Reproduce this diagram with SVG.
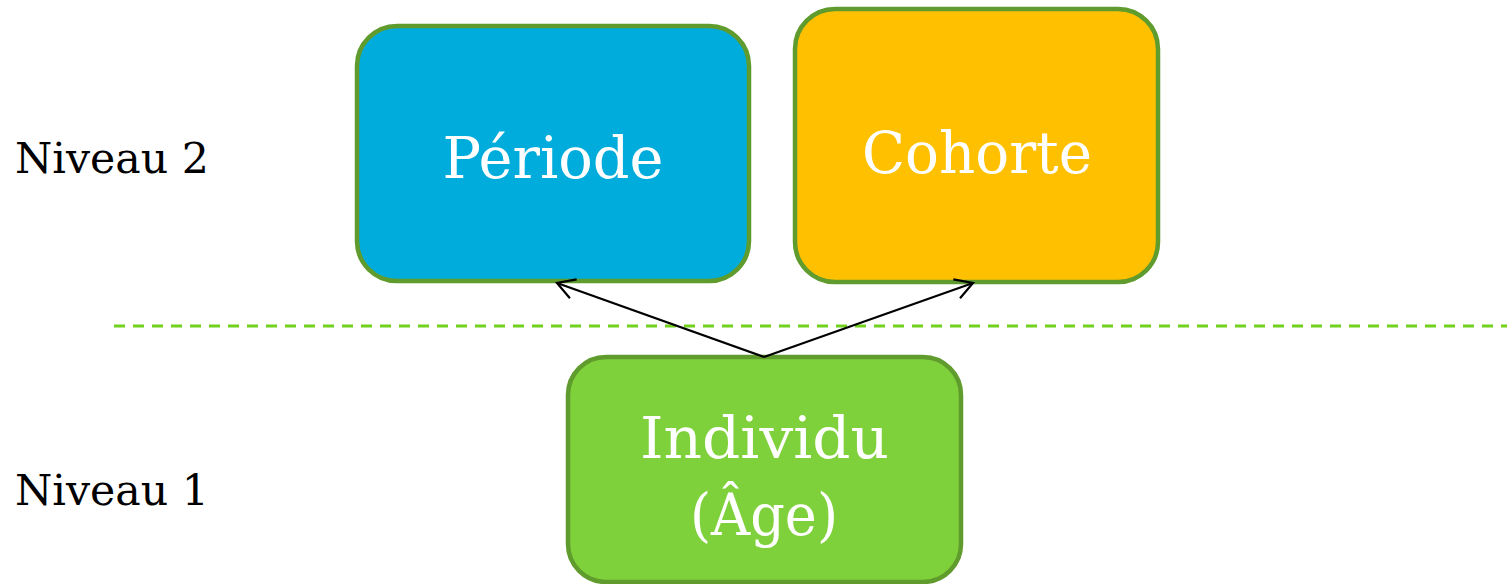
<svg xmlns="http://www.w3.org/2000/svg" width="1507" height="584" viewBox="0 0 1507 584">
<style>
.box{stroke:#5f9b2d;stroke-width:4.5}
.lbl{font-family:"DejaVu Serif","Liberation Serif",serif;fill:#ffffff;text-anchor:middle}
.lvl{font-family:"DejaVu Serif","Liberation Serif",serif;fill:#000000;font-size:43px}
.conn{stroke:#000000;stroke-width:2.2;fill:none}
</style>
<defs>
<marker id="arr" markerUnits="userSpaceOnUse" markerWidth="24" markerHeight="24" viewBox="0 0 24 24" refX="21" refY="12" orient="auto">
<path d="M3.7,2 L21,12 L3.7,22" fill="none" stroke="#000000" stroke-width="2.2"/>
</marker>
</defs>
<rect width="1507" height="584" fill="#ffffff"/>
<line x1="114" y1="326" x2="1507" y2="326" stroke="#72d11e" stroke-width="3" stroke-dasharray="11 8"/>
<text class="lvl" x="15" y="173" textLength="194" lengthAdjust="spacingAndGlyphs">Niveau 2</text>
<text class="lvl" x="15" y="505" textLength="194" lengthAdjust="spacingAndGlyphs">Niveau 1</text>
<g id="periode">
<rect class="box" x="357" y="26" width="392" height="255" rx="40" fill="#00acdb"/>
<text class="lbl" x="553" y="178" font-size="57" textLength="221" lengthAdjust="spacingAndGlyphs">Période</text>
</g>
<g id="cohorte">
<rect class="box" x="795" y="9" width="363" height="273" rx="40" fill="#ffc000"/>
<text class="lbl" x="977" y="173" font-size="58" textLength="230" lengthAdjust="spacingAndGlyphs">Cohorte</text>
</g>
<g id="individu">
<rect class="box" x="568" y="357" width="393" height="225" rx="38" fill="#7fd13b"/>
<text class="lbl" x="764.5" y="458" font-size="58" textLength="249" lengthAdjust="spacingAndGlyphs">Individu</text>
<text class="lbl" x="764" y="535" font-size="58" textLength="148" lengthAdjust="spacingAndGlyphs">(Âge)</text>
</g>
<g id="connectors">
<line class="conn" x1="764" y1="357" x2="557" y2="283" marker-end="url(#arr)"/>
<line class="conn" x1="764" y1="357" x2="973" y2="283" marker-end="url(#arr)"/>
</g>
</svg>
